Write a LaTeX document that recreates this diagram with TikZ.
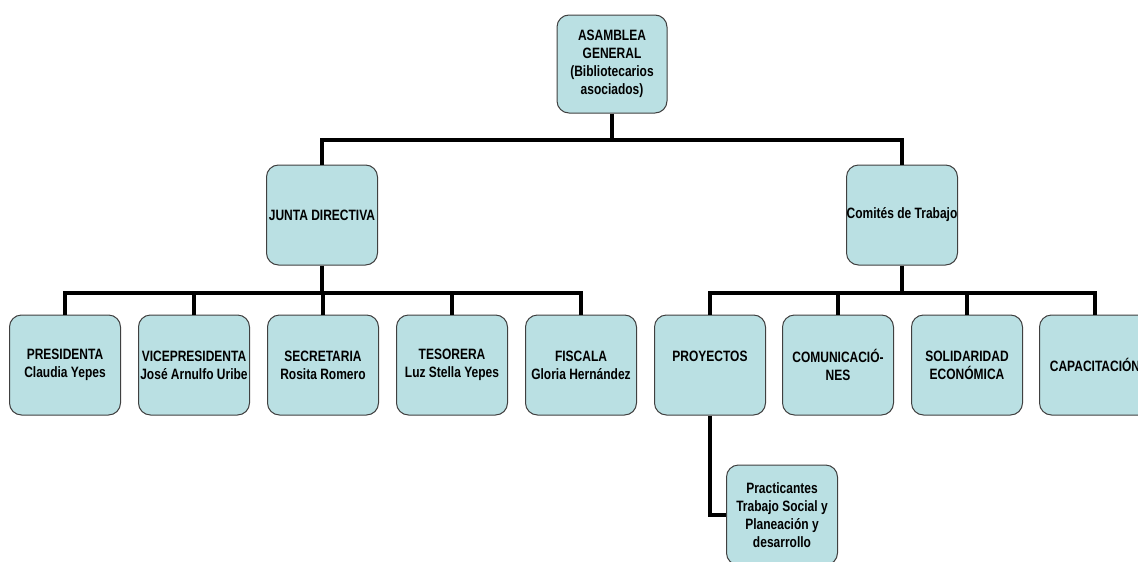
\documentclass[tikz,border=0pt]{standalone}
\usepackage{fontspec}
\setmainfont{Liberation Sans}[FakeStretch=0.8]
\usetikzlibrary{positioning}
\definecolor{boxfill}{RGB}{186,224,227}
\definecolor{boxline}{RGB}{64,64,64}
\tikzset{
  cargo/.style={draw=boxline, line width=1pt, fill=boxfill, rounded corners=12pt,
    minimum width=111pt, minimum height=100pt, inner xsep=0pt, align=center,
    font=\fontsize{15}{18}\selectfont\bfseries},
  enlace/.style={line width=4pt, black}
}
\begin{document}
\begin{tikzpicture}[x=1pt,y=-1pt]
    \useasboundingbox (0,0) rectangle (1138,562);
    % nivel 1
    \node[cargo, minimum width=110pt, minimum height=98pt] (asamblea) at (612,64) {ASAMBLEA\\GENERAL\\(Bibliotecarios\\asociados)};
    % nivel 2
    \node[cargo] (junta)   at (322,215) {JUNTA DIRECTIVA};
    \node[cargo] (comites) at (902,215) {Comités de Trabajo};
    % nivel 3
    \node[cargo] (presi)  at (65,365)   {PRESIDENTA\\Claudia Yepes};
    \node[cargo] (vice)   at (194,365)  {VICEPRESIDENTA\\José Arnulfo Uribe};
    \node[cargo] (secre)  at (323,365)  {SECRETARIA\\Rosita Romero};
    \node[cargo] (teso)   at (452,365)  {TESORERA\\Luz Stella Yepes};
    \node[cargo] (fiscal) at (581,365)  {FISCALA\\Gloria Hernández};
    \node[cargo] (proy)   at (710,365)  {PROYECTOS\\\mbox{}};
    \node[cargo] (comu)   at (838,365)  {COMUNICACIÓ-\\NES};
    \node[cargo] (soli)   at (967,365)  {SOLIDARIDAD\\ECONÓMICA};
    \node[cargo] (capa)   at (1095,365) {CAPACITACIÓN};
    % nivel 4
    \node[cargo] (pract)  at (782,515)  {Practicantes\\Trabajo Social y\\Planeación y\\desarrollo};
    % conectores
    \coordinate (barra1) at (612,140);
    \coordinate (barra2) at (322,293);
    \coordinate (barra3) at (902,293);
    \draw[enlace] (asamblea.south) -- (barra1);
    \draw[enlace] (junta.north) |- (barra1) -| (comites.north);
    \draw[enlace] (junta.south) -- (barra2);
    \draw[enlace] (comites.south) -- (barra3);
    \foreach \n in {presi,vice,secre,teso,fiscal}
        \draw[enlace] (barra2) -| (\n.north);
    \foreach \n in {proy,comu,soli,capa}
        \draw[enlace] (barra3) -| (\n.north);
    \draw[enlace] (proy.south) |- (pract.west);
\end{tikzpicture}
\end{document}
